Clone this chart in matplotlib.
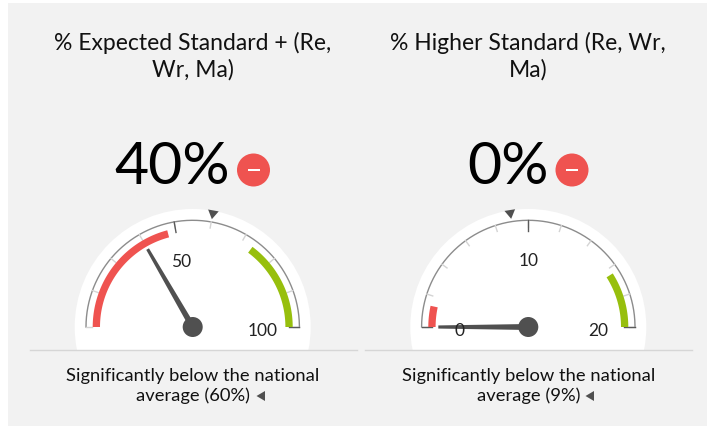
import matplotlib
matplotlib.use('Agg')
import matplotlib.pyplot as plt
from matplotlib.patches import Circle, Rectangle, Polygon
import numpy as np

W, H = 707, 426

titles = ['% Expected Standard + (Re,\nWr, Ma)', '% Higher Standard (Re, Wr,\nMa)']
big_values = ['40%', '0%']
captions = ['Significantly below the national\naverage (60%)', 'Significantly below the national\naverage (9%)']

# gauge scales, readings are on an even scale from min to max
scale_max = [100, 20]
tick_counts = [10, 11]
dark_ticks = [[44.44, 100], [0, 10, 20]]
label_vals = [[44.44, 100], [0, 10, 20]]
label_text = [['50', '100'], ['0', '10', '20']]
needle_vals = [33.3, 0]
marker_vals = [55.6, 9]
red_bands = [(0, 41.8), (0, 1.36)]
green_bands = [(70.4, 100), (16.4, 20)]

centers = [192.7, 528.3]
cy = 327
DARK = '#505050'
RED = '#ef5350'
GREEN = '#97bf0d'

plt.rcParams['font.family'] = 'Lato'

fig = plt.figure(figsize=(W / 100, H / 100), dpi=100)
ax = fig.add_axes([0, 0, 1, 1])
ax.set_xlim(0, W)
ax.set_ylim(H, 0)
ax.axis('off')

ax.add_patch(Rectangle((8, 3), 699, 423, fc='#f2f2f2', ec='none'))


def pt(cx, r, a):
    # a is degrees clockwise from straight up
    t = np.radians(a)
    return cx + r * np.sin(t), cy - r * np.cos(t)


def band(cx, v0, v1, vmax, color):
    a = np.radians(np.linspace(-90 + 180 * v0 / vmax, -90 + 180 * v1 / vmax, 60))
    xs = np.r_[cx + 100 * np.sin(a), cx + 92.7 * np.sin(a[::-1])]
    ys = np.r_[cy - 100 * np.cos(a), cy - 92.7 * np.cos(a[::-1])]
    ax.add_patch(Polygon(np.c_[xs, ys], fc=color, ec='none', zorder=3))


for i, cx in enumerate(centers):
    vmax = scale_max[i]

    # white face, cut by the rule under it
    face = Circle((cx, cy), 118, fc='white', ec='none', zorder=1)
    ax.add_patch(face)
    face.set_clip_path(Rectangle((0, 0), W, 350, transform=ax.transData))

    # scale arc
    a = np.linspace(-90, 90, 200)
    xs, ys = pt(cx, 106.7, a)
    ax.plot(xs, ys, color='#8c8c8c', lw=1.0, zorder=2)

    for v in np.linspace(0, vmax, tick_counts[i]):
        x0, y0 = pt(cx, 106.7, -90 + 180 * v / vmax)
        x1, y1 = pt(cx, 100.5, -90 + 180 * v / vmax)
        ax.plot([x0, x1], [y0, y1], color='#d4d4d4', lw=1.0, zorder=2)
    for v in dark_ticks[i]:
        x0, y0 = pt(cx, 106.7, -90 + 180 * v / vmax)
        x1, y1 = pt(cx, 96, -90 + 180 * v / vmax)
        ax.plot([x0, x1], [y0, y1], color='#5a5a5a', lw=1.0, zorder=2)

    band(cx, red_bands[i][0], red_bands[i][1], vmax, RED)
    band(cx, green_bands[i][0], green_bands[i][1], vmax, GREEN)

    for v, s in zip(label_vals[i], label_text[i]):
        lx, ly = pt(cx, 65.5, -90 + 180 * v / vmax)
        if v == 0:
            lx, ly = cx - 68.5, cy + 4
        if v == vmax:
            lx, ly = cx + 69.5, cy + 4.5
        ax.text(lx, ly, s, ha='center', va='center', fontsize=12.5, color='#222222', zorder=7)

    # needle
    na = -90 + 180 * needle_vals[i] / vmax
    b1 = pt(cx, 3, na - 90)
    b2 = pt(cx, 3, na + 90)
    ax.add_patch(Polygon([b1, b2, pt(cx, 90, na + 1), pt(cx, 90, na - 1)], fc=DARK, ec='none', zorder=5))
    ax.add_patch(Circle((cx, cy), 10, fc=DARK, ec='none', zorder=6))

    # national average marker
    ma = -90 + 180 * marker_vals[i] / vmax
    t = pt(cx, 109.5, ma)
    o1 = pt(cx, 118.5, ma - 2.6)
    o2 = pt(cx, 118.5, ma + 2.6)
    ax.add_patch(Polygon([t, o1, o2], fc=DARK, ec='none', zorder=5))

    # rule, title, caption
    ax.plot([cx - 163, cx + 164], [350, 350], color='#d6d6d6', lw=1.0, zorder=2)
    ax.text(cx, 56, titles[i], ha='center', va='center', fontsize=16.5, color='#111111', linespacing=1.3)
    ax.text(cx, 386, captions[i], ha='center', va='center', fontsize=13.2, color='#111111', linespacing=1.22)

    # big number and minus badge
    bx = [253.5, 572][i]
    tx = [229.5, 549][i]
    ax.text(tx, 167.5, big_values[i], ha='right', va='center', fontsize=42.5, color='black')
    ax.add_patch(Circle((bx, 170), 16.5, fc=RED, ec='none', zorder=3))
    ax.add_patch(Rectangle((bx - 6, 169), 12, 2.2, fc='white', ec='none', zorder=4))

    # small left arrow after the caption
    ax_x = [261, 590][i]
    ax.add_patch(Polygon([(ax_x - 4.5, 396), (ax_x + 4, 391), (ax_x + 4, 401)], fc=DARK, ec='none'))

fig.savefig('out.png', dpi=100)
